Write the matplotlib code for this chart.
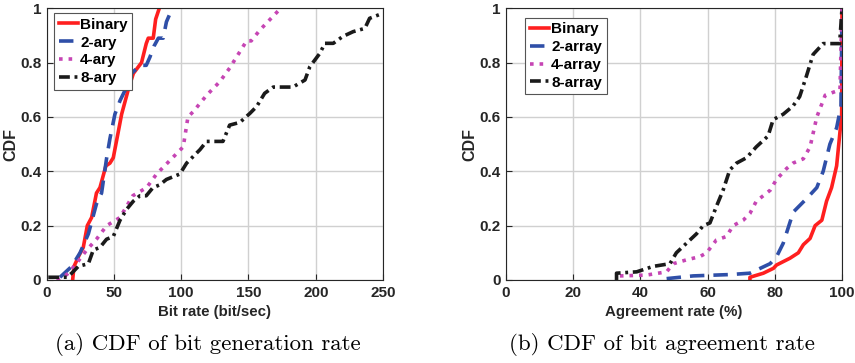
import matplotlib.pyplot as plt

# ---- (a) bit generation rate
bin_x = [19.3, 20.3, 24, 27.2, 30.2, 33.4, 37, 39.6, 44, 47, 49.5, 53, 55.7, 60.6, 64.4, 70.5, 74, 75.5, 79.2, 81, 83.7]
bin_y = [0, 0.05, 0.09, 0.12, 0.2, 0.23, 0.32, 0.34, 0.42, 0.43, 0.45, 0.54, 0.61, 0.70, 0.76, 0.80, 0.87, 0.89, 0.89, 0.96, 1.0]
ary2_x = [9.9, 18.6, 24.8, 31, 37, 40.8, 44.6, 47, 50.7, 54.5, 59.4, 63, 69.3, 74, 76.7, 79.7, 83, 86.6, 89, 91.6]
ary2_y = [0.01, 0.05, 0.1, 0.17, 0.28, 0.32, 0.45, 0.52, 0.61, 0.66, 0.71, 0.76, 0.79, 0.79, 0.82, 0.86, 0.89, 0.89, 0.95, 0.98]
ary4_x = [7.4, 15, 22, 29.7, 37, 44.6, 54.5, 64, 74.3, 81.7, 91.6, 101.5, 105, 109, 118.9, 128.7, 136, 148.6, 152, 158.5, 172]
ary4_y = [0, 0.02, 0.06, 0.11, 0.15, 0.2, 0.23, 0.31, 0.34, 0.39, 0.44, 0.49, 0.60, 0.62, 0.68, 0.73, 0.78, 0.88, 0.88, 0.92, 0.99]
ary8_x = [1.2, 15, 18.6, 23.5, 31, 34.6, 39.6, 44.5, 49.5, 54.5, 59.4, 64.4, 69.3, 74, 79, 84, 89, 99, 104, 114, 118.8,
          131, 136, 143.6, 151, 156, 162, 168.4, 183, 192, 195.6, 203, 206.8, 213, 220, 227.8, 236.5, 240, 249]
ary8_y = [0.01, 0.01, 0.025, 0.05, 0.06, 0.11, 0.12, 0.15, 0.16, 0.22, 0.26, 0.29, 0.31, 0.31, 0.34, 0.35, 0.37, 0.39, 0.43, 0.48, 0.51,
          0.51, 0.57, 0.58, 0.613, 0.638, 0.687, 0.71, 0.71, 0.736, 0.785, 0.834, 0.871, 0.871, 0.896, 0.914, 0.926, 0.963, 0.98]

# ---- (b) bit agreement rate
abin_x = [72.6, 72.6, 76.6, 79.6, 80.5, 84.5, 87, 88.5, 90.5, 92, 94, 95.4, 96.9, 98.4, 99.2, 99.9, 100]
abin_y = [0, 0.01, 0.025, 0.043, 0.055, 0.08, 0.1, 0.13, 0.153, 0.2, 0.22, 0.29, 0.34, 0.42, 0.52, 0.61, 1.0]
a2_x = [47.8, 55.7, 66.7, 72.6, 78.6, 80.5, 82.5, 85.5, 89.5, 92.5, 94.4, 96.4, 98.4, 99.7, 100]
a2_y = [0.005, 0.015, 0.02, 0.025, 0.06, 0.085, 0.135, 0.25, 0.3, 0.34, 0.4, 0.5, 0.56, 0.64, 1.0]
a4_x = [33.9, 41.8, 47.8, 49.8, 53.7, 57.7, 59.7, 62.6, 65.6, 67.6, 70.6, 72.6, 74.5, 78.6, 80.5, 83.5, 85.4, 88.5, 90.5, 92.5, 95, 99.4, 100]
a4_y = [0.015, 0.018, 0.03, 0.06, 0.074, 0.086, 0.10, 0.147, 0.16, 0.2, 0.22, 0.245, 0.29, 0.33, 0.37, 0.41, 0.43, 0.446, 0.49, 0.6, 0.68, 0.70, 1.0]
a8_x = [32.9, 32.9, 38.9, 43.8, 48.8, 50.7, 53.7, 56.7, 58.7, 60.7, 62.6, 64.6, 66.6, 68.6, 71.6, 74.5, 78, 79.5, 82.5, 85.4, 87.4,
        89.4, 91.4, 94.4, 99.3, 100]
a8_y = [0, 0.025, 0.03, 0.05, 0.06, 0.1, 0.135, 0.17, 0.2, 0.21, 0.27, 0.33, 0.405, 0.43, 0.45, 0.49, 0.53, 0.59, 0.61, 0.64, 0.675,
        0.75, 0.83, 0.87, 0.87, 1.0]

red = '#ff1f1f'
blue = '#2f4fa8'
mag = '#c645b4'
blk = '#1a1a1a'
txt = '#262626'

plt.rcParams['font.family'] = ['Liberation Sans', 'DejaVu Sans']
plt.rcParams['font.weight'] = 'bold'

fig = plt.figure(figsize=(8.55, 3.63), dpi=100)
ax1 = fig.add_axes([0.0546, 0.2287, 0.3934, 0.7485])
ax2 = fig.add_axes([0.5918, 0.2287, 0.3930, 0.7485])


def style(ax, xmax, xticks, xlabel):
    ax.set_xlim(0, xmax)
    ax.set_ylim(0, 1)
    ax.set_xticks(xticks)
    ax.set_yticks([0, 0.2, 0.4, 0.6, 0.8, 1])
    ax.set_yticklabels(['0', '0.2', '0.4', '0.6', '0.8', '1'])
    ax.grid(True, color='#d0d0d0', linewidth=1.0)
    ax.set_axisbelow(True)
    ax.tick_params(direction='in', length=4, colors=txt, labelsize=11, pad=4)
    for lab in ax.get_xticklabels() + ax.get_yticklabels():
        lab.set_fontweight('bold')
    for s in ax.spines.values():
        s.set_color('#262626')
        s.set_linewidth(0.8)
    ax.set_xlabel(xlabel, fontsize=10.8, fontweight='bold', color=txt, labelpad=4)
    ax.set_ylabel('CDF', fontsize=11.5, fontweight='bold', color=txt, labelpad=1)


lw = 2.6
legkw = dict(loc='upper left', fontsize=11, handlelength=1.25, handletextpad=0.15, borderpad=0.3,
             labelspacing=0.25, fancybox=False, framealpha=1, edgecolor='#555555', borderaxespad=0)

ax1.plot(bin_x, bin_y, '-', color=red, lw=lw, label='Binary')
ax1.plot(ary2_x, ary2_y, '--', color=blue, lw=lw, label='2-ary', dashes=(4, 2.5))
ax1.plot(ary4_x, ary4_y, ':', color=mag, lw=lw, label='4-ary')
ax1.plot(ary8_x, ary8_y, '-.', color=blk, lw=lw, label='8-ary', dashes=(3, 1.3, 0.8, 1.3))
style(ax1, 250, [0, 50, 100, 150, 200, 250], 'Bit rate (bit/sec)')
leg1 = ax1.legend(bbox_to_anchor=(0.022, 0.982), **legkw)
leg1.get_frame().set_linewidth(0.8)

ax2.plot(abin_x, abin_y, '-', color=red, lw=lw, label='Binary')
ax2.plot(a2_x, a2_y, '--', color=blue, lw=lw, label='2-array', dashes=(4, 2.5))
ax2.plot(a4_x, a4_y, ':', color=mag, lw=lw, label='4-array')
ax2.plot(a8_x, a8_y, '-.', color=blk, lw=lw, label='8-array', dashes=(3, 1.3, 0.8, 1.3))
style(ax2, 100, [0, 20, 40, 60, 80, 100], 'Agreement rate (%)')
leg2 = ax2.legend(bbox_to_anchor=(0.057, 0.965), **legkw)
leg2.get_frame().set_linewidth(0.8)

fig.text(0.243, 0.05, '(a) CDF of bit generation rate', ha='center', va='center',
         family='cmr10', fontsize=16.5, fontweight='normal')
fig.text(0.774, 0.05, '(b) CDF of bit agreement rate', ha='center', va='center',
         family='cmr10', fontsize=16.5, fontweight='normal')

fig.savefig('out.png', dpi=100)
